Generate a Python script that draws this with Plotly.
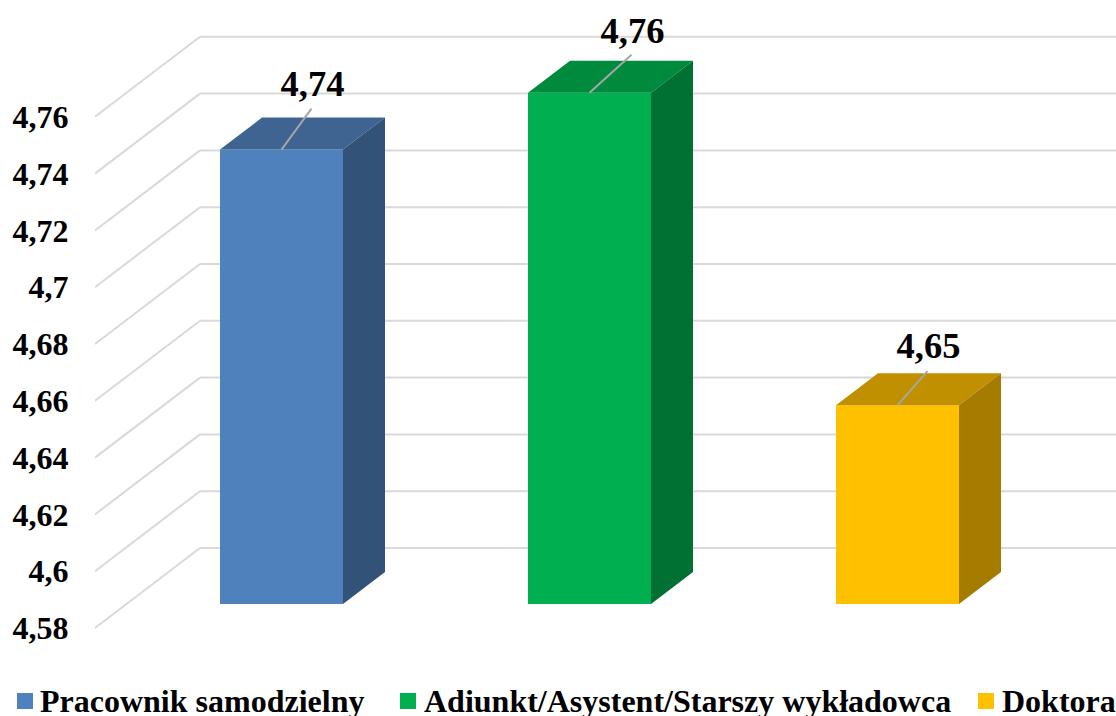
#!/usr/bin/env python
# coding: utf-8

import plotly.graph_objects as go

categories = ['Pracownik samodzielny', 'Adiunkt/Asystent/Starszy wykładowca', 'Doktora']
values = [4.74, 4.76, 4.65]
tick_values = [4.58, 4.6, 4.62, 4.64, 4.66, 4.68, 4.7, 4.72, 4.74, 4.76]
tick_labels = ['4,58', '4,6', '4,62', '4,64', '4,66', '4,68', '4,7', '4,72', '4,74', '4,76']

front_colors = ['#4F81BD', '#00B050', '#FFC000']
top_colors = ['#3F6491', '#008A3E', '#C09000']
side_colors = ['#325278', '#007033', '#A67C00']

# fake 3D: the y axis is the front edge of the wall, depth d goes 0..1 to the back wall
W, H = 1116, 716
LEFT = 95
Y_BASE_PX = 628
PX_PER_VALUE = 56.8 / 0.02
DEPTH_X = 105
DEPTH_Y = 80 / PX_PER_VALUE
BAR_D0, BAR_D1 = 0.3, 0.7
BAR_WIDTH = 123
BAR_CENTERS = [281.5, 589.5, 897.5]
BASE = tick_values[0]


def depth(x, v, d):
    return x + d * DEPTH_X, v + d * DEPTH_Y


def polygon(points, color):
    return go.Scatter(
        x=[p[0] for p in points],
        y=[p[1] for p in points],
        mode='lines',
        fill='toself',
        fillcolor=color,
        line=dict(width=0),
        hoverinfo='skip',
        showlegend=False,
    )


fig = go.Figure()
shapes = []
annotations = []

# wall gridlines, as shapes so that they stay under the bars
for v in tick_values:
    x0, y0 = depth(LEFT, v, 0)
    x1, y1 = depth(LEFT, v, 1)
    for xa, ya, xb, yb in [(x0, y0, x1, y1), (x1, y1, W, y1)]:
        shapes.append(dict(type='line', xref='x', yref='y', layer='below',
                           x0=xa, y0=ya, x1=xb, y1=yb,
                           line=dict(color='#D9D9D9', width=2)))

# label offsets from the top of the bar, in pixels
label_dx = [31, 43, 31]
label_dy = [63, 59, 56]
leader_dx = [30, 42, 30]
leader_dy = [41, 38, 34]

for i, (name, v) in enumerate(zip(categories, values)):
    xl = BAR_CENTERS[i] - BAR_WIDTH / 2 - BAR_D0 * DEPTH_X
    xr = xl + BAR_WIDTH
    # top and side faces
    fig.add_trace(polygon([depth(xl, v, BAR_D0), depth(xr, v, BAR_D0),
                           depth(xr, v, BAR_D1), depth(xl, v, BAR_D1)], top_colors[i]))
    fig.add_trace(polygon([depth(xr, BASE, BAR_D0), depth(xr, v, BAR_D0),
                           depth(xr, v, BAR_D1), depth(xr, BASE, BAR_D1)], side_colors[i]))
    # front face
    fig.add_trace(go.Bar(
        x=[BAR_CENTERS[i]],
        y=[v - BASE],
        base=[BASE + BAR_D0 * DEPTH_Y],
        width=BAR_WIDTH,
        name=name,
        marker=dict(color=front_colors[i], line=dict(width=0)),
        showlegend=False,
    ))
    # leader line and value label
    ytop = v + BAR_D0 * DEPTH_Y
    fig.add_trace(go.Scatter(
        x=[BAR_CENTERS[i], BAR_CENTERS[i] + leader_dx[i]],
        y=[ytop, ytop + leader_dy[i] / PX_PER_VALUE],
        mode='lines',
        line=dict(color='#A6A6A6', width=2),
        hoverinfo='skip',
        showlegend=False,
    ))
    fig.add_trace(go.Scatter(
        x=[BAR_CENTERS[i] + label_dx[i]],
        y=[ytop + label_dy[i] / PX_PER_VALUE],
        mode='text',
        text=['{:.2f}'.format(v).replace('.', ',')],
        textposition='middle center',
        textfont=dict(family='Liberation Serif', size=36.5, color='black', weight='bold'),
        hoverinfo='skip',
        showlegend=False,
        cliponaxis=False,
    ))

# legend along the bottom edge
legend_square_x = [17, 400, 978]
legend_text_x = [38, 422, 1000]
legend_y = 701
for i, name in enumerate(categories):
    shapes.append(dict(
        type='rect', xref='paper', yref='paper',
        x0=(legend_square_x[i] - LEFT) / (W - LEFT),
        x1=(legend_square_x[i] + 16 - LEFT) / (W - LEFT),
        y0=1 - (legend_y + 8) / H,
        y1=1 - (legend_y - 8) / H,
        fillcolor=front_colors[i],
        line=dict(width=0),
    ))
    annotations.append(dict(
        text=name,
        xref='paper', yref='paper',
        x=(legend_text_x[i] - LEFT) / (W - LEFT),
        y=1 - legend_y / H,
        xanchor='left', yanchor='middle',
        showarrow=False,
        font=dict(family='Liberation Serif', size=32, color='black', weight='bold'),
    ))

fig.update_layout(
    width=W,
    height=H,
    margin=dict(l=LEFT, r=0, t=0, b=0),
    paper_bgcolor='white',
    plot_bgcolor='white',
    showlegend=False,
    shapes=shapes,
    annotations=annotations,
    barmode='overlay',
    xaxis=dict(range=[LEFT, W], visible=False, fixedrange=True),
    yaxis=dict(
        range=[BASE - (H - Y_BASE_PX) / PX_PER_VALUE, BASE + Y_BASE_PX / PX_PER_VALUE],
        tickvals=tick_values,
        ticktext=tick_labels,
        ticks='outside',
        ticklen=19,
        tickcolor='rgba(0,0,0,0)',
        tickfont=dict(family='Liberation Serif', size=32, color='black', weight='bold'),
        showgrid=False,
        zeroline=False,
        showline=False,
        automargin=False,
        fixedrange=True,
    ),
)

# the page's default body margin would push the chart off by 8px
fig.write_html("out.html", config={'displayModeBar': False},
               post_script="document.body.style.margin = '0';")
